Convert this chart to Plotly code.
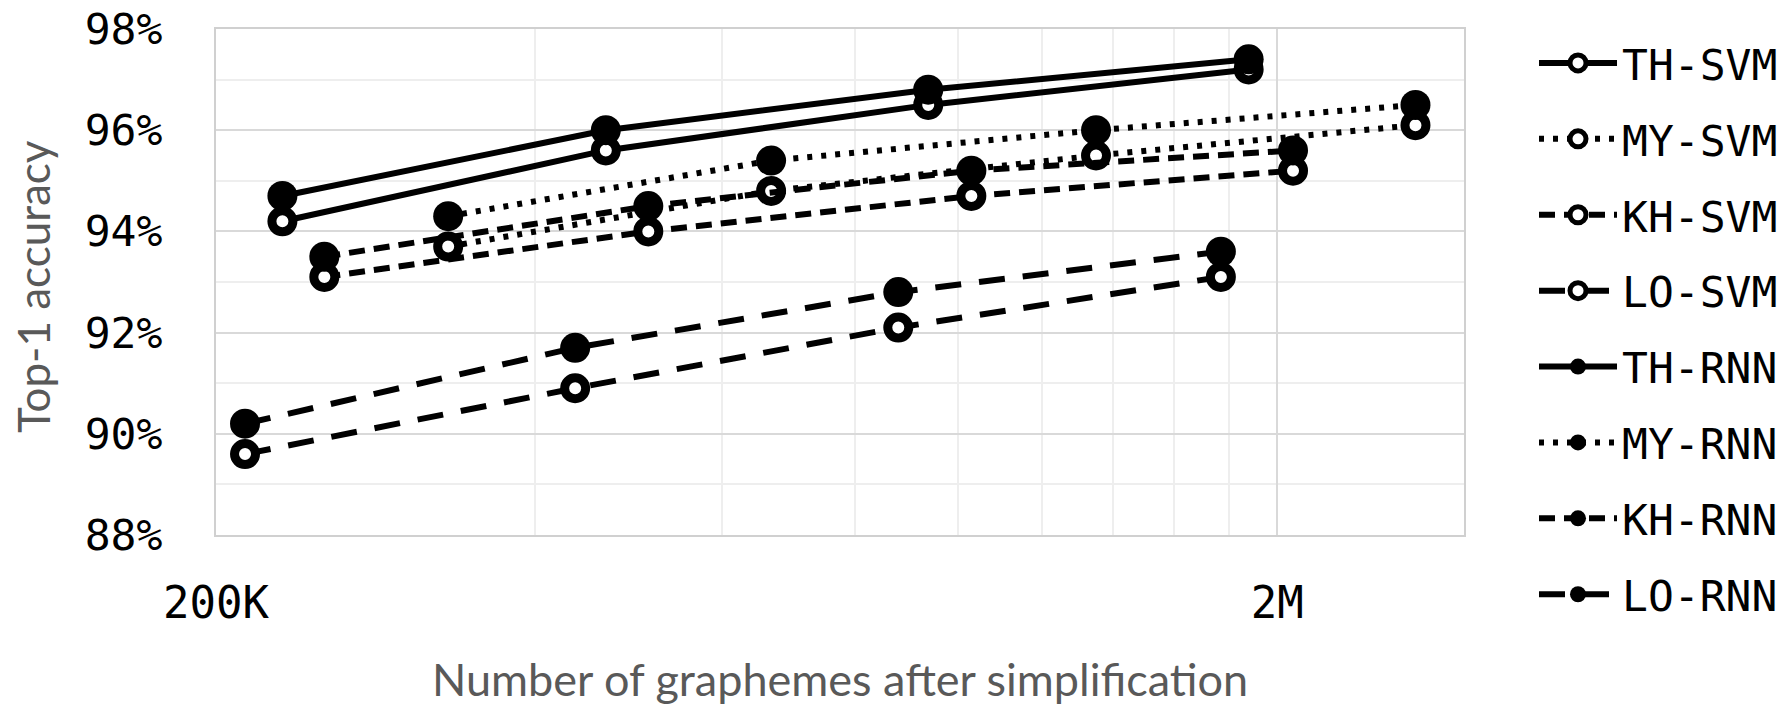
import plotly.graph_objects as go

# ---- data ----
languages = ["TH", "MY", "KH", "LO"]
x_TH = [231e3, 466e3, 938e3, 1.88e6]
x_MY = [331e3, 667e3, 1.35e6, 2.70e6]
x_KH = [253e3, 511e3, 1.03e6, 2.07e6]
x_LO = [213e3, 436e3, 879e3, 1.77e6]

svm_TH = [94.2, 95.6, 96.5, 97.2]
svm_MY = [93.7, 94.8, 95.5, 96.1]
svm_KH = [93.1, 94.0, 94.7, 95.2]
svm_LO = [89.6, 90.9, 92.1, 93.1]

rnn_TH = [94.7, 96.0, 96.8, 97.4]
rnn_MY = [94.3, 95.4, 96.0, 96.5]
rnn_KH = [93.5, 94.5, 95.2, 95.6]
rnn_LO = [90.2, 91.7, 92.8, 93.6]

x_ticks = [2e5, 2e6]
x_ticktext = ["200K", "2M"]
x_minor = [4e5, 6e5, 8e5, 1e6, 1.2e6, 1.4e6, 1.6e6, 1.8e6]
y_ticks = [88, 90, 92, 94, 96, 98]
y_ticktext = [f"{v}%" for v in y_ticks]

xs = {"TH": x_TH, "MY": x_MY, "KH": x_KH, "LO": x_LO}
svm = {"TH": svm_TH, "MY": svm_MY, "KH": svm_KH, "LO": svm_LO}
rnn = {"TH": rnn_TH, "MY": rnn_MY, "KH": rnn_KH, "LO": rnn_LO}
dashes = {"TH": "solid", "MY": "5px,9px", "KH": "16px,9px", "LO": "26px,18px"}

MONO = "DejaVu Sans Mono"
SANS = "Lato"

fig = go.Figure()
for model, data, filled in [("SVM", svm, False), ("RNN", rnn, True)]:
    for lang in languages:
        name = f"{lang}-{model}"
        fig.add_trace(go.Scatter(
            x=xs[lang], y=data[lang], mode="lines+markers",
            name=name, legendgroup=name,
            line=dict(color="black", width=6, dash=dashes[lang]),
            marker=dict(size=30 if filled else 21, symbol="circle",
                        color="black" if filled else "white",
                        line=dict(color="black", width=0 if filled else 9)),
        ))

fig.update_layout(
    width=1784, height=707,
    margin=dict(l=216, r=320, t=29, b=172, autoexpand=False),
    paper_bgcolor="white", plot_bgcolor="white",
    showlegend=True,
    legend=dict(x=1.0561, xanchor="left", y=1.001, yanchor="top",
                font=dict(family=MONO, size=43, color="black"),
                itemsizing="trace", itemwidth=78, tracegroupgap=17,
                maxheight=700, bgcolor="rgba(0,0,0,0)"),
    xaxis=dict(
        type="log", range=[5.30103, 6.4771], automargin=False,
        tickvals=x_ticks, ticktext=x_ticktext, ticks="",
        tickfont=dict(family=MONO, size=44, color="black"),
        ticklabelstandoff=28,
        showgrid=True, gridcolor="#d9d9d9", gridwidth=1.5,
        minor=dict(tickvals=x_minor, showgrid=True, gridcolor="#eeeeee", ticks=""),
        showline=True, linecolor="#d0d0d0", linewidth=2, mirror=True,
        zeroline=False,
    ),
    yaxis=dict(
        range=[88, 98], tickvals=y_ticks, ticktext=y_ticktext, ticks="",
        automargin=False,
        tickfont=dict(family=MONO, size=43, color="black"),
        ticklabelstandoff=43,
        showgrid=True, gridcolor="#d9d9d9", gridwidth=1.5,
        minor=dict(dtick=1, showgrid=True, gridcolor="#eeeeee", ticks=""),
        showline=True, linecolor="#d0d0d0", linewidth=2, mirror=True,
        zeroline=False,
    ),
    annotations=[
        dict(text="Top-1 accuracy", xref="paper", yref="paper",
             x=-0.1466, y=0.49, xanchor="center", yanchor="middle",
             textangle=-90, showarrow=False,
             font=dict(family=SANS, size=44, color="#595959")),
        dict(text="Number of graphemes after simplification", xref="paper", yref="paper",
             x=0.5, y=-0.2846, xanchor="center", yanchor="middle",
             showarrow=False,
             font=dict(family=SANS, size=45, color="#595959")),
    ],
)

fig.write_html(
    "out.html",
    config={"displayModeBar": False},
    post_script="document.body.style.margin='0';document.body.style.overflow='hidden';",
)
